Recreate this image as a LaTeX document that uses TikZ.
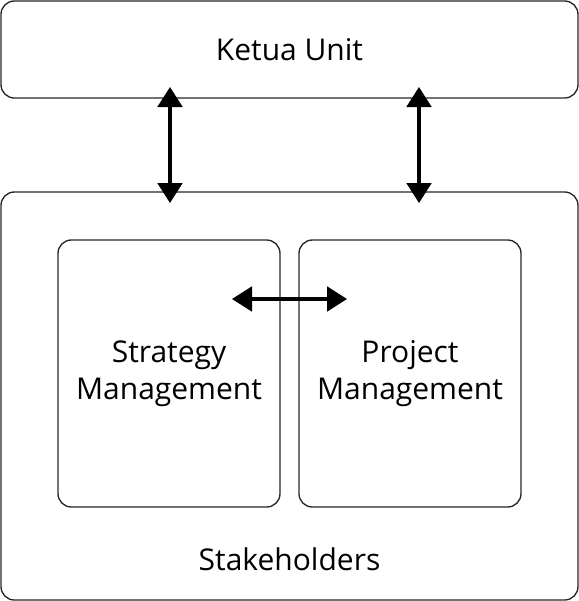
\documentclass[tikz,border=0pt]{standalone}
\usepackage{fontspec}
\setmainfont{Open Sans}
\usetikzlibrary{arrows.meta,calc,positioning}

\begin{document}
\begin{tikzpicture}[x=0.75pt,y=0.75pt,yscale=-1,xscale=1,
  box/.style={draw=black!85,line width=1pt,rounded corners=10pt,inner sep=0pt,align=center,font=\fontsize{22.5}{28}\selectfont},
  lbl/.style={inner sep=0.75pt,align=center,font=\fontsize{22.5}{28}\selectfont},
  biarrow/.style={line width=2.3pt,{Triangle[length=15pt,width=18.5pt]}-{Triangle[length=15pt,width=18.5pt]}}]

\useasboundingbox (0,0) rectangle (579,601);

\node[box,minimum width=432.75pt,minimum height=72.75pt] (ketua) at (289.5,49.5) {Ketua Unit};

\node[box,minimum width=432.75pt,minimum height=306pt] (stake) at (289.5,396) {};

\node[box,minimum width=166.5pt,minimum height=200.25pt] (strategy) at (169,373.5) {Strategy\\Management};

\node[box,minimum width=166.5pt,minimum height=200.25pt] (project) at (410,373.5) {Project\\Management};

\node[lbl] (stakelbl) at (289.5,559) {Stakeholders};

\coordinate (k1) at (170,87);
\coordinate (s1) at (170,203);
\coordinate (k2) at (419,87);
\coordinate (s2) at (419,203);
\coordinate (m1) at (232,299);
\coordinate (m2) at (347,299);

\draw[biarrow] (k1) -- (s1);
\draw[biarrow] (k2) -- (s2);
\draw[biarrow] (m1) -- (m2);

\end{tikzpicture}
\end{document}
